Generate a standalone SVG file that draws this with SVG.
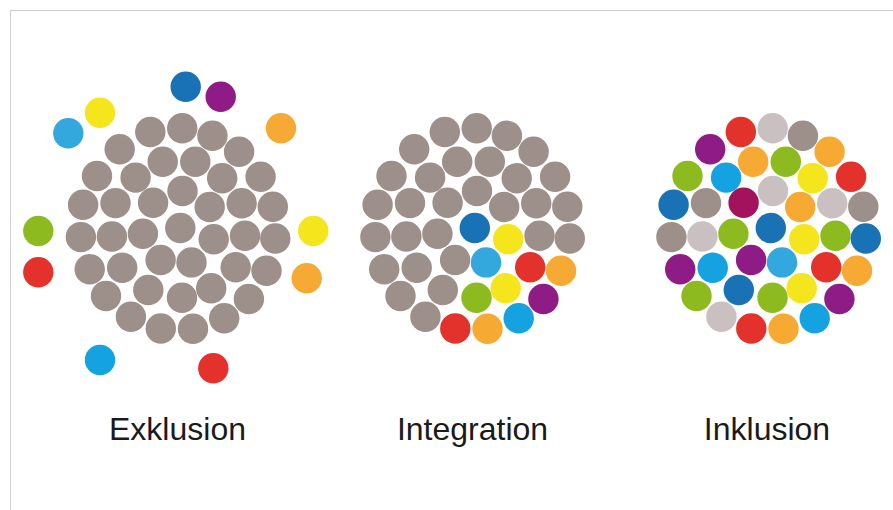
<svg xmlns="http://www.w3.org/2000/svg" width="893" height="510" viewBox="0 0 893 510">
<style>
circle{stroke:none}
.g{fill:#9d8f89}.lg{fill:#cbc0c1}.db{fill:#1a72b6}.cy{fill:#15a2e0}.lb{fill:#33a8dd}
.y{fill:#f4e51d}.o{fill:#f6aa33}.r{fill:#e3322b}.gr{fill:#8dbb1f}.p{fill:#8f1b86}.m{fill:#a2125d}
.lbl{font-family:"Liberation Sans",Arial,sans-serif;font-size:32px;fill:#1a1a1a;text-anchor:middle}
</style>
<rect x="0" y="0" width="893" height="510" fill="#ffffff"/>
<rect x="10.5" y="10.5" width="900" height="520" fill="none" stroke="#cfcfcf" stroke-width="1"/>
<g id="exklusion">
<g id="exklusion-core">
<circle class="g" cx="150.3" cy="132" r="15.2"/>
<circle class="g" cx="182.2" cy="128.3" r="15.2"/>
<circle class="g" cx="212.4" cy="135.8" r="15.2"/>
<circle class="g" cx="119.7" cy="149.3" r="15.2"/>
<circle class="g" cx="162.7" cy="161.7" r="15.2"/>
<circle class="g" cx="195.3" cy="161.7" r="15.2"/>
<circle class="g" cx="239.1" cy="151.7" r="15.2"/>
<circle class="g" cx="97" cy="176" r="15.2"/>
<circle class="g" cx="135.6" cy="177.6" r="15.2"/>
<circle class="g" cx="222.2" cy="178.3" r="15.2"/>
<circle class="g" cx="260.6" cy="176.7" r="15.2"/>
<circle class="g" cx="182.5" cy="191" r="15.2"/>
<circle class="g" cx="83.1" cy="204.8" r="15.2"/>
<circle class="g" cx="115.5" cy="203.1" r="15.2"/>
<circle class="g" cx="153.1" cy="202.8" r="15.2"/>
<circle class="g" cx="209.7" cy="207" r="15.2"/>
<circle class="g" cx="241.7" cy="203.3" r="15.2"/>
<circle class="g" cx="272.8" cy="206.7" r="15.2"/>
<circle class="g" cx="80.9" cy="237.1" r="15.2"/>
<circle class="g" cx="111.9" cy="236.5" r="15.2"/>
<circle class="g" cx="142.9" cy="233.8" r="15.2"/>
<circle class="g" cx="180.3" cy="228" r="15.2"/>
<circle class="g" cx="213.7" cy="239.2" r="15.2"/>
<circle class="g" cx="245" cy="235.7" r="15.2"/>
<circle class="g" cx="275.3" cy="238.5" r="15.2"/>
<circle class="g" cx="89.7" cy="269.2" r="15.2"/>
<circle class="g" cx="122.2" cy="267.7" r="15.2"/>
<circle class="g" cx="160.6" cy="260" r="15.2"/>
<circle class="g" cx="191.5" cy="262.4" r="15.2"/>
<circle class="g" cx="235.7" cy="267.2" r="15.2"/>
<circle class="g" cx="266.5" cy="270.7" r="15.2"/>
<circle class="g" cx="106" cy="296" r="15.2"/>
<circle class="g" cx="148.3" cy="290" r="15.2"/>
<circle class="g" cx="182" cy="297.8" r="15.2"/>
<circle class="g" cx="211.2" cy="288.3" r="15.2"/>
<circle class="g" cx="248.9" cy="299" r="15.2"/>
<circle class="g" cx="130.9" cy="316.7" r="15.2"/>
<circle class="g" cx="160.8" cy="328.5" r="15.2"/>
<circle class="g" cx="193" cy="328.8" r="15.2"/>
<circle class="g" cx="224.2" cy="318.3" r="15.2"/>
</g>
<g id="exklusion-outside">
<circle class="lb" cx="68.3" cy="133.3" r="15.2"/>
<circle class="y" cx="100" cy="112.7" r="15.2"/>
<circle class="db" cx="185.7" cy="86.7" r="15.2"/>
<circle class="p" cx="220.7" cy="96.7" r="15.2"/>
<circle class="o" cx="281" cy="128.3" r="15.2"/>
<circle class="y" cx="313.3" cy="231" r="15.2"/>
<circle class="o" cx="306.7" cy="278.3" r="15.2"/>
<circle class="gr" cx="38.3" cy="231" r="15.2"/>
<circle class="r" cx="38.3" cy="272.3" r="15.2"/>
<circle class="cy" cx="100" cy="360" r="15.2"/>
<circle class="r" cx="213.3" cy="368.3" r="15.2"/>
</g>
<text class="lbl" x="177.5" y="440">Exklusion</text>
</g>
<g id="integration">
<g transform="translate(294.5,0)">
<circle class="g" cx="150.3" cy="132" r="15.2"/>
<circle class="g" cx="182.2" cy="128.3" r="15.2"/>
<circle class="g" cx="212.4" cy="135.8" r="15.2"/>
<circle class="g" cx="119.7" cy="149.3" r="15.2"/>
<circle class="g" cx="162.7" cy="161.7" r="15.2"/>
<circle class="g" cx="195.3" cy="161.7" r="15.2"/>
<circle class="g" cx="239.1" cy="151.7" r="15.2"/>
<circle class="g" cx="97" cy="176" r="15.2"/>
<circle class="g" cx="135.6" cy="177.6" r="15.2"/>
<circle class="g" cx="222.2" cy="178.3" r="15.2"/>
<circle class="g" cx="260.6" cy="176.7" r="15.2"/>
<circle class="g" cx="182.5" cy="191" r="15.2"/>
<circle class="g" cx="83.1" cy="204.8" r="15.2"/>
<circle class="g" cx="115.5" cy="203.1" r="15.2"/>
<circle class="g" cx="153.1" cy="202.8" r="15.2"/>
<circle class="g" cx="209.7" cy="207" r="15.2"/>
<circle class="g" cx="241.7" cy="203.3" r="15.2"/>
<circle class="g" cx="272.8" cy="206.7" r="15.2"/>
<circle class="g" cx="80.9" cy="237.1" r="15.2"/>
<circle class="g" cx="111.9" cy="236.5" r="15.2"/>
<circle class="g" cx="142.9" cy="233.8" r="15.2"/>
<circle class="db" cx="180.3" cy="228" r="15.2"/>
<circle class="y" cx="213.7" cy="239.2" r="15.2"/>
<circle class="g" cx="245" cy="235.7" r="15.2"/>
<circle class="g" cx="275.3" cy="238.5" r="15.2"/>
<circle class="g" cx="89.7" cy="269.2" r="15.2"/>
<circle class="g" cx="122.2" cy="267.7" r="15.2"/>
<circle class="g" cx="160.6" cy="260" r="15.2"/>
<circle class="lb" cx="191.5" cy="262.4" r="15.2"/>
<circle class="r" cx="235.7" cy="267.2" r="15.2"/>
<circle class="o" cx="266.5" cy="270.7" r="15.2"/>
<circle class="g" cx="106" cy="296" r="15.2"/>
<circle class="g" cx="148.3" cy="290" r="15.2"/>
<circle class="gr" cx="182" cy="297.8" r="15.2"/>
<circle class="y" cx="211.2" cy="288.3" r="15.2"/>
<circle class="p" cx="248.9" cy="299" r="15.2"/>
<circle class="g" cx="130.9" cy="316.7" r="15.2"/>
<circle class="r" cx="160.8" cy="328.5" r="15.2"/>
<circle class="o" cx="193" cy="328.8" r="15.2"/>
<circle class="cy" cx="224.2" cy="318.3" r="15.2"/>
</g>
<text class="lbl" x="472.5" y="440">Integration</text>
</g>
<g id="inklusion">
<g transform="translate(590.5,0)">
<circle class="r" cx="150.3" cy="132" r="15.2"/>
<circle class="lg" cx="182.2" cy="128.3" r="15.2"/>
<circle class="g" cx="212.4" cy="135.8" r="15.2"/>
<circle class="p" cx="119.7" cy="149.3" r="15.2"/>
<circle class="o" cx="162.7" cy="161.7" r="15.2"/>
<circle class="gr" cx="195.3" cy="161.7" r="15.2"/>
<circle class="o" cx="239.1" cy="151.7" r="15.2"/>
<circle class="gr" cx="97" cy="176" r="15.2"/>
<circle class="cy" cx="135.6" cy="177.6" r="15.2"/>
<circle class="y" cx="222.2" cy="178.3" r="15.2"/>
<circle class="r" cx="260.6" cy="176.7" r="15.2"/>
<circle class="lg" cx="182.5" cy="191" r="15.2"/>
<circle class="db" cx="83.1" cy="204.8" r="15.2"/>
<circle class="g" cx="115.5" cy="203.1" r="15.2"/>
<circle class="m" cx="153.1" cy="202.8" r="15.2"/>
<circle class="o" cx="209.7" cy="207" r="15.2"/>
<circle class="lg" cx="241.7" cy="203.3" r="15.2"/>
<circle class="g" cx="272.8" cy="206.7" r="15.2"/>
<circle class="g" cx="80.9" cy="237.1" r="15.2"/>
<circle class="lg" cx="111.9" cy="236.5" r="15.2"/>
<circle class="gr" cx="142.9" cy="233.8" r="15.2"/>
<circle class="db" cx="180.3" cy="228" r="15.2"/>
<circle class="y" cx="213.7" cy="239.2" r="15.2"/>
<circle class="gr" cx="245" cy="235.7" r="15.2"/>
<circle class="db" cx="275.3" cy="238.5" r="15.2"/>
<circle class="p" cx="89.7" cy="269.2" r="15.2"/>
<circle class="cy" cx="122.2" cy="267.7" r="15.2"/>
<circle class="p" cx="160.6" cy="260" r="15.2"/>
<circle class="lb" cx="191.5" cy="262.4" r="15.2"/>
<circle class="r" cx="235.7" cy="267.2" r="15.2"/>
<circle class="o" cx="266.5" cy="270.7" r="15.2"/>
<circle class="gr" cx="106" cy="296" r="15.2"/>
<circle class="db" cx="148.3" cy="290" r="15.2"/>
<circle class="gr" cx="182" cy="297.8" r="15.2"/>
<circle class="y" cx="211.2" cy="288.3" r="15.2"/>
<circle class="p" cx="248.9" cy="299" r="15.2"/>
<circle class="lg" cx="130.9" cy="316.7" r="15.2"/>
<circle class="r" cx="160.8" cy="328.5" r="15.2"/>
<circle class="o" cx="193" cy="328.8" r="15.2"/>
<circle class="cy" cx="224.2" cy="318.3" r="15.2"/>
</g>
<text class="lbl" x="767" y="440">Inklusion</text>
</g>
</svg>
